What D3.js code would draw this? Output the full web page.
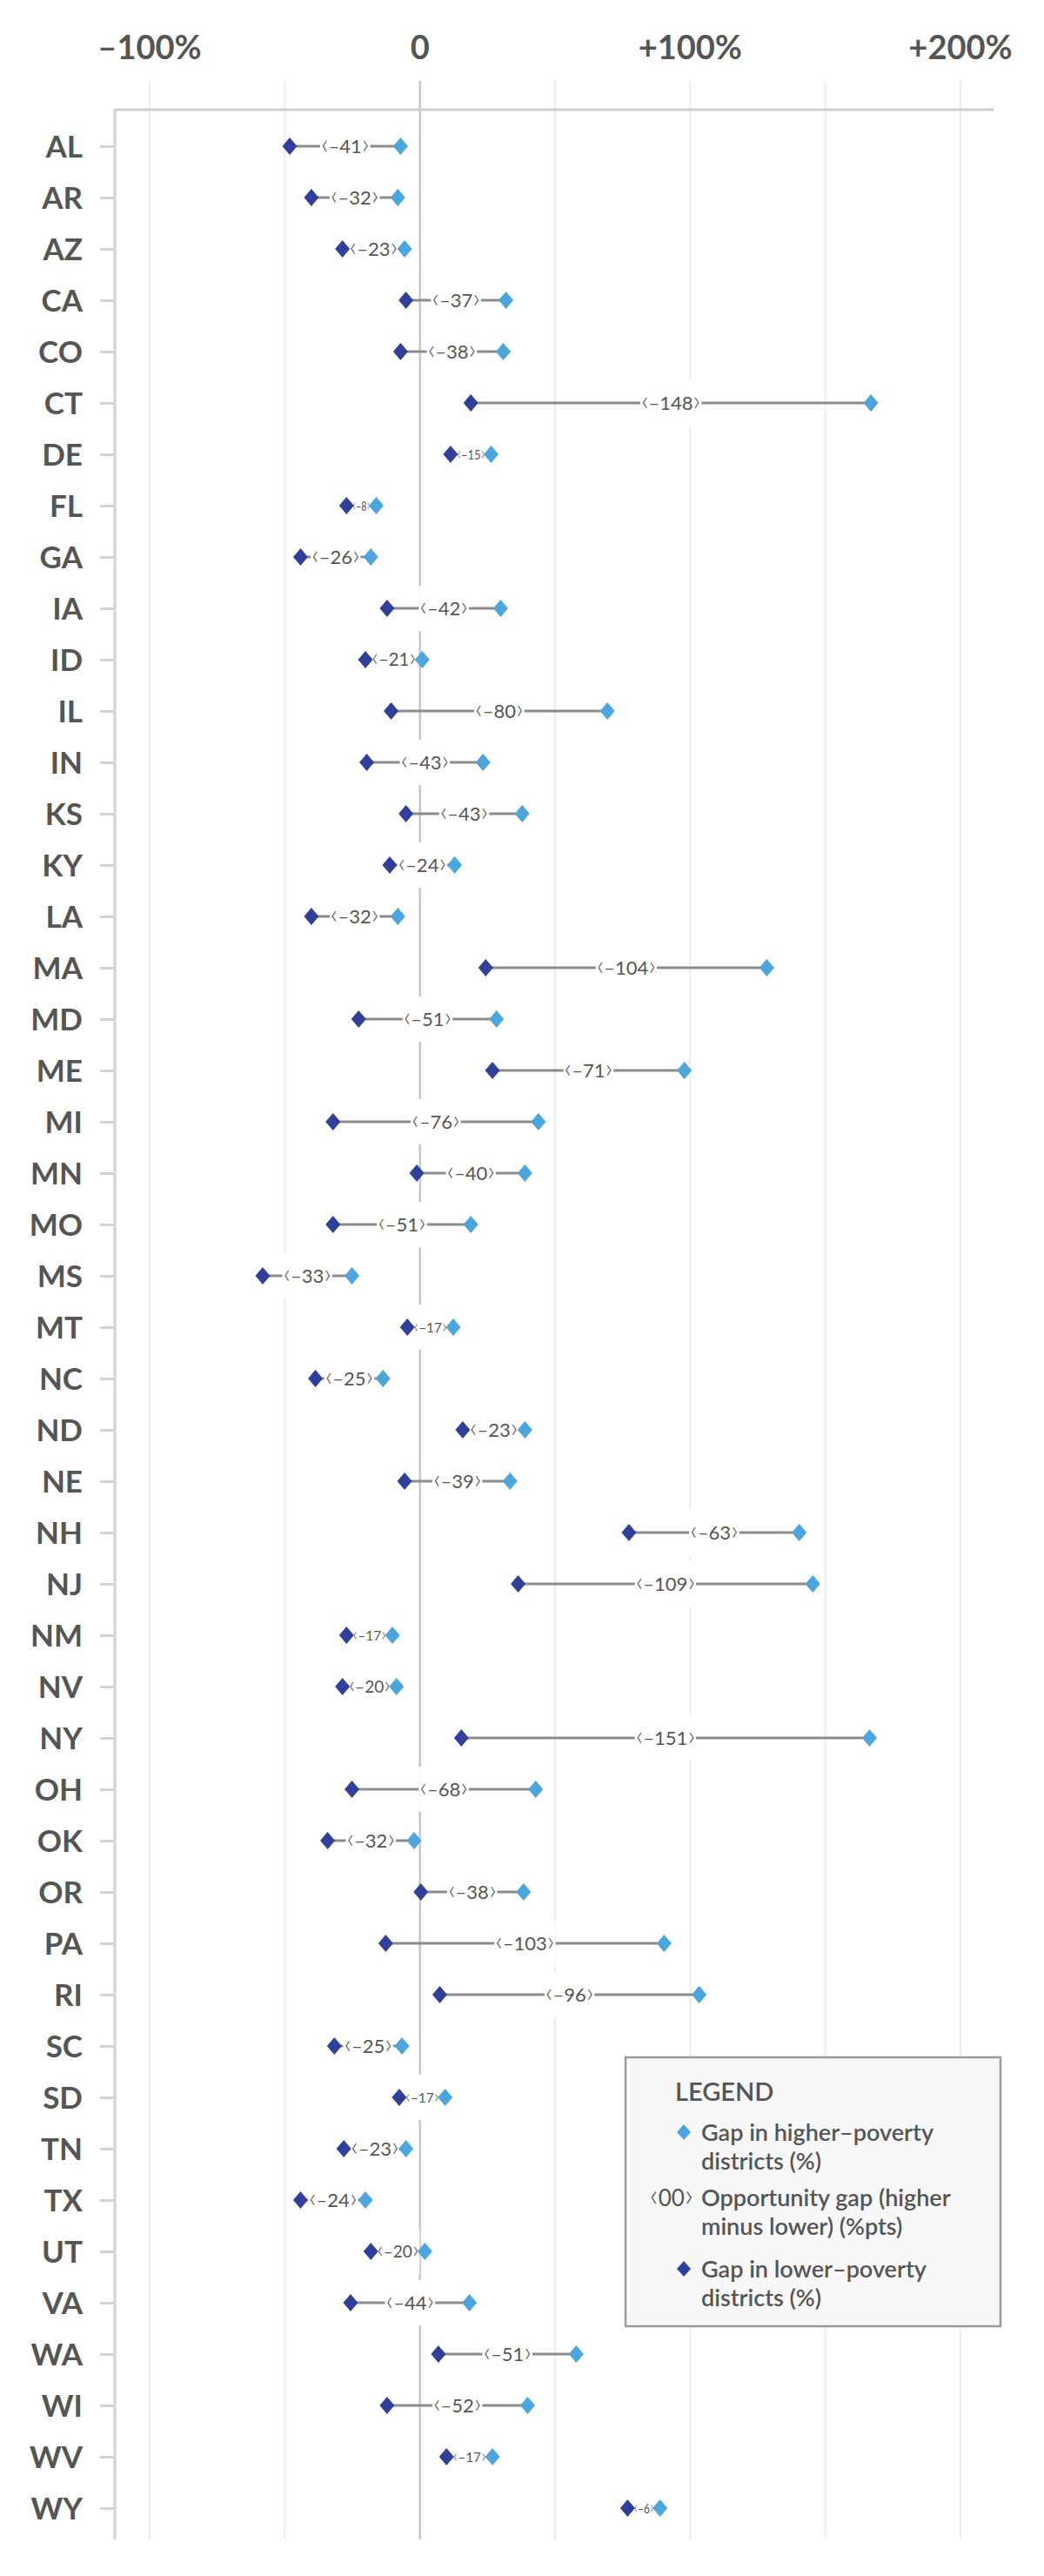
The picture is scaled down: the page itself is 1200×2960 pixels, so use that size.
<!DOCTYPE html>
<html><head><meta charset="utf-8">
<script src="https://cdn.jsdelivr.net/npm/d3@7"></script>
<style>body{margin:0;background:#fff} svg{display:block}</style>
</head><body>
<svg id="c" width="1200" height="2960"></svg>
<script>
const states = ["AL","AR","AZ","CA","CO","CT","DE","FL","GA","IA","ID","IL","IN","KS","KY","LA","MA","MD","ME","MI","MN","MO","MS","MT","NC","ND","NE","NH","NJ","NM","NV","NY","OH","OK","OR","PA","RI","SC","SD","TN","TX","UT","VA","WA","WI","WV","WY"];
const lowerPoverty = [-48,-40,-28.5,-5,-7,19,11.5,-27,-44,-12,-20,-10.5,-19.5,-5,-11,-40,24.5,-22.5,27,-32,-1,-32,-58,-4.5,-38.5,16,-5.5,77.5,36.5,-27,-28.5,15.5,-25,-34,0.5,-12.5,7.5,-31.5,-7.5,-28,-44,-18,-25.5,7,-12,10,77];
const higherPoverty = [-7,-8,-5.5,32,31,167,26.5,-16,-18,30,1,69.5,23.5,38,13,-8,128.5,28.5,98,44,39,19,-25,12.5,-13.5,39,33.5,140.5,145.5,-10,-8.5,166.5,43,-2,38.5,90.5,103.5,-6.5,9.5,-5,-20,2,18.5,58,40,27,89];
const gapLabels = [41,32,23,37,38,148,15,8,26,42,21,80,43,43,24,32,104,51,71,76,40,51,33,17,25,23,39,63,109,17,20,151,68,32,38,103,96,25,17,23,24,20,44,51,52,17,6];
const xTickValues = [-100,0,100,200];
const xGridValues = [-100,-50,0,50,100,150,200];
const legendTitle = "LEGEND";
const legendHigher = ["Gap in higher\u2013poverty","districts (%)"];
const legendGap = ["Opportunity gap (higher","minus lower) (%pts)"];
const legendLower = ["Gap in lower\u2013poverty","districts (%)"];
const legendGapSymbol = "00";

const DARK = "#30409a", LIGHT = "#4aa6dc", TEXT = "#555555";
const BR_L = "\u2039", BR_R = "\u203a";
const svg = d3.select("#c");
const x = d3.scaleLinear().domain([-100,200]).range([171.5,1103.5]);
const y = d3.scalePoint().domain(states).range([168,2882]);
const gridTop = 93, axisY = 126, bottom = 2918, left = 132, right = 1142;

const fmt = v => v === 0 ? "0" : (v > 0 ? "+" : "\u2013") + Math.abs(v) + "%";

function bracketText(sel, inner) {
  sel.append("tspan").attr("font-size","1.45em").attr("font-weight",300).text(BR_L);
  sel.append("tspan").text(inner);
  sel.append("tspan").attr("font-size","1.45em").attr("font-weight",300).text(BR_R);
}

// gridlines
const grid = svg.append("g").attr("transform",`translate(0,${gridTop})`)
  .call(d3.axisBottom(x).tickValues(xGridValues).tickSize(bottom-gridTop).tickFormat(""));
grid.select(".domain").remove();
grid.selectAll(".tick line").attr("stroke", d => d===0 ? "#c6c6c6" : "#ececec").attr("stroke-width", d => d===0 ? 2.5 : 2);

// top tick labels
const xa = svg.append("g").attr("transform",`translate(0,${gridTop})`)
  .call(d3.axisTop(x).tickValues(xTickValues).tickSize(0).tickPadding(25).tickFormat(fmt));
xa.select(".domain").remove();
xa.selectAll("text").attr("font-family","Lato, sans-serif").attr("font-weight",700).attr("font-size",38).attr("fill",TEXT);

// axis lines
svg.append("line").attr("x1",left-1.5).attr("x2",right).attr("y1",axisY).attr("y2",axisY).attr("stroke","#cfcfcf").attr("stroke-width",3);
svg.append("line").attr("x1",left).attr("x2",left).attr("y1",axisY).attr("y2",bottom).attr("stroke","#d2d2d2").attr("stroke-width",3);

// left axis
const ya = svg.append("g").attr("transform",`translate(${left},0)`)
  .call(d3.axisLeft(y).tickSize(17).tickPadding(20));
ya.select(".domain").remove();
ya.selectAll(".tick line").attr("stroke","#d2d2d2").attr("stroke-width",3);
ya.selectAll("text").attr("font-family","Lato, sans-serif").attr("font-weight",700).attr("font-size",35).attr("fill",TEXT).attr("dy","0.36em");

const rows = states.map((s,i) => ({s, lo: lowerPoverty[i], hi: higherPoverty[i], gap: gapLabels[i]}));

// connectors
svg.append("g").selectAll("line").data(rows).join("line")
  .attr("x1", d => x(d.lo)).attr("x2", d => x(d.hi))
  .attr("y1", d => y(d.s)).attr("y2", d => y(d.s))
  .attr("stroke","#8c8c8c").attr("stroke-width",3);

// gap labels with white backing
const lab = svg.append("g").selectAll("g").data(rows).join("g");
lab.each(function(d){
  const g = d3.select(this);
  const cx = (x(d.lo) + x(d.hi))/2, cy = y(d.s);
  const rect = g.append("rect").attr("fill","#fff");
  let fs = 22;
  const t = g.append("text").attr("x",cx)
    .attr("text-anchor","middle").attr("font-family","Lato, sans-serif").attr("font-size",fs)
    .attr("fill",TEXT);
  bracketText(t, "\u2013" + d.gap);
  const w = t.node().getComputedTextLength();
  const avail = Math.abs(x(d.hi) - x(d.lo)) - 14;
  let fw = w;
  if (w > avail) {
    fs = 22 * Math.max(0.7, avail / w);
    t.attr("font-size", fs);
    fw = t.node().getComputedTextLength();
    if (fw > avail) { t.attr("textLength", Math.max(avail, 10)).attr("lengthAdjust","spacingAndGlyphs"); fw = Math.max(avail,10); }
  }
  t.attr("y", cy + fs*0.36);
  rect.attr("x", cx - fw/2 - 1).attr("width", fw + 2).attr("y", cy - 26).attr("height", 52);
});

const diamond = "M0,-10L8.5,0L0,10L-8.5,0Z";
svg.append("g").selectAll("path").data(rows).join("path")
  .attr("d", diamond).attr("fill", DARK)
  .attr("transform", d => `translate(${x(d.lo)},${y(d.s)})`);
svg.append("g").selectAll("path").data(rows).join("path")
  .attr("d", diamond).attr("fill", LIGHT)
  .attr("transform", d => `translate(${x(d.hi)},${y(d.s)})`);

// legend
const lg = svg.append("g");
lg.append("rect").attr("x",719).attr("y",2364).attr("width",431).attr("height",309)
  .attr("fill","#f7f7f7").attr("stroke","#9a9a9a").attr("stroke-width",2.5);
lg.append("text").attr("x",776).attr("y",2414).attr("font-family","Lato, sans-serif").attr("font-weight",600)
  .attr("font-size",29).attr("fill",TEXT).text(legendTitle);
const items = [
  {lines: legendHigher, y0: 2460, kind: "hi"},
  {lines: legendGap, y0: 2535, kind: "gap"},
  {lines: legendLower, y0: 2617, kind: "lo"}
];
items.forEach(it => {
  if (it.kind === "gap") {
    const st = lg.append("text").attr("x",797).attr("y",it.y0).attr("text-anchor","end")
      .attr("font-family","Lato, sans-serif").attr("font-size",26).attr("fill",TEXT);
    bracketText(st, legendGapSymbol);
  } else {
    lg.append("path").attr("d","M0,-9L8,0L0,9L-8,0Z").attr("fill", it.kind==="hi" ? LIGHT : DARK)
      .attr("transform",`translate(786,${it.y0-10})`);
  }
  it.lines.forEach((ln,k) => {
    lg.append("text").attr("x",806).attr("y",it.y0 + k*33).attr("font-family","Lato, sans-serif")
      .attr("font-weight",600).attr("font-size",27).attr("fill",TEXT).text(ln);
  });
});
</script>
</body></html>
